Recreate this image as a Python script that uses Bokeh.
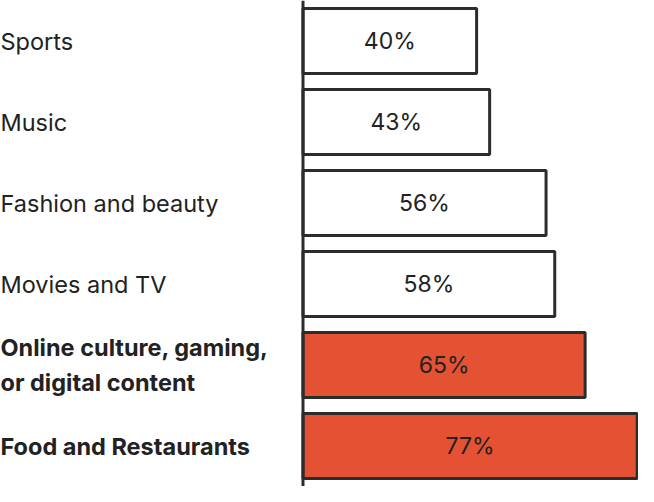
from bokeh.plotting import figure
from bokeh.models import ColumnDataSource, Range1d, FactorRange, Span
from bokeh.core.properties import value
from bokeh.embed import file_html
from bokeh.resources import INLINE

# Data
categories = ["Sports", "Music", "Fashion and beauty", "Movies and TV",
              "Online culture, gaming,\nor digital content", "Food and Restaurants"]
keys = ["Sports", "Music", "Fashion", "Movies", "Online", "Food"]
percent = [40, 43, 56, 58, 65, 77]
highlighted = [False, False, False, False, True, True]

DARK = "#2b2d2d"
RED = "#e55233"
X_START, X_END = -69.7, 77.3

src = ColumnDataSource(dict(
    key=keys,
    label=categories,
    pct=percent,
    mid=[v / 2 for v in percent],
    txt=[f"{v}%" for v in percent],
    fill=[RED if h else "white" for h in highlighted],
    style=["bold" if h else "normal" for h in highlighted],
    lx=[X_START] * len(keys),
))

p = figure(width=638, height=486, output_backend="svg", toolbar_location=None,
           x_range=Range1d(X_START, X_END),
           y_range=FactorRange(factors=list(reversed(keys))),
           min_border=0, outline_line_color=None)
p.axis.visible = False
p.grid.visible = False
p.background_fill_color = "white"
p.border_fill_color = "white"

p.hbar(y="key", left=0, right="pct", height=0.8, source=src,
       fill_color="fill", line_color=DARK, line_width=3)

p.add_layout(Span(location=0, dimension="height", line_color=DARK, line_width=3))

p.text(x="mid", y="key", text="txt", source=src,
       text_align="center", text_baseline="middle",
       text_font=value("Inter"), text_font_size="23px", text_font_style="normal",
       text_color="#222222")

p.text(x="lx", y="key", text="label", source=src,
       text_align="left", text_baseline="middle",
       text_font=value("Inter"), text_font_size="23.5px", text_font_style="style",
       text_color="#222222", text_line_height=1.23)

open("out.html", "w").write(file_html(p, INLINE))
